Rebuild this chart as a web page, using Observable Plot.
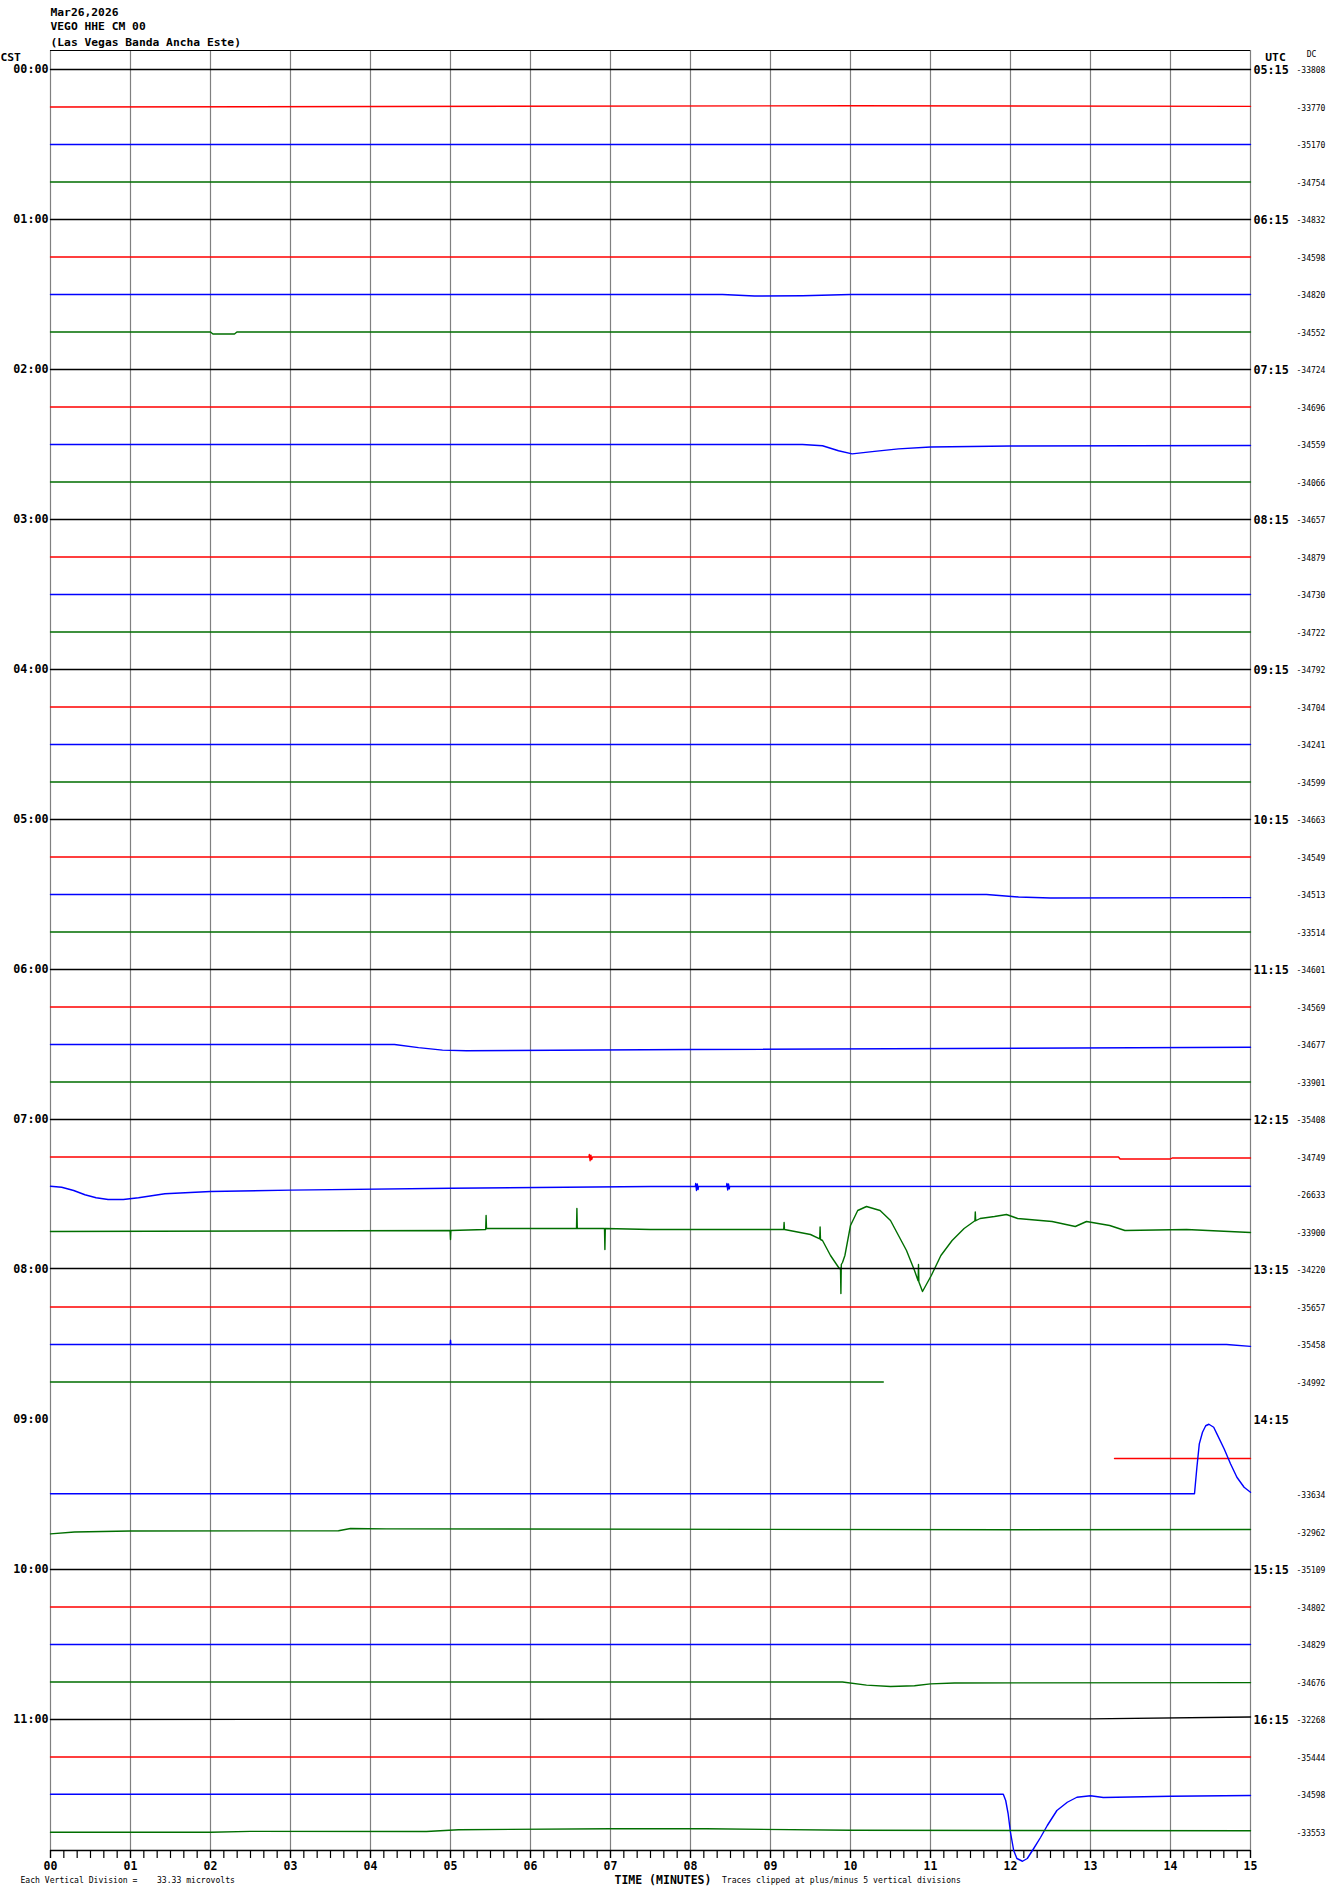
<!DOCTYPE html>
<html>
<head>
<meta charset="utf-8">
<script src="https://cdn.jsdelivr.net/npm/d3@7"></script>
<script src="https://cdn.jsdelivr.net/npm/@observablehq/plot@0.6"></script>
<style>
  html, body { margin: 0; padding: 0; background: #fff; }
  #chart svg { display: block; }
</style>
</head>
<body>
<div id="chart"></div>
<script>
// ---------- DATA ----------
const titleLines = ["Mar26,2026", "VEGO HHE CM 00", "(Las Vegas Banda Ancha Este)"];
const cstHours = ["00:00","01:00","02:00","03:00","04:00","05:00","06:00","07:00","08:00","09:00","10:00","11:00"];
const utcHours = ["05:15","06:15","07:15","08:15","09:15","10:15","11:15","12:15","13:15","14:15","15:15","16:15"];
const minuteTicks = [0,1,2,3,4,5,6,7,8,9,10,11,12,13,14,15];
const minuteLabels = ["00","01","02","03","04","05","06","07","08","09","10","11","12","13","14","15"];
const dcValues = [
  -33808,-33770,-35170,-34754,-34832,-34598,-34820,-34552,
  -34724,-34696,-34559,-34066,-34657,-34879,-34730,-34722,
  -34792,-34704,-34241,-34599,-34663,-34549,-34513,-33514,
  -34601,-34569,-34677,-33901,-35408,-34749,-26633,-33900,
  -34220,-35657,-35458,-34992,null,null,-33634,-32962,
  -35109,-34802,-34829,-34676,-32268,-35444,-34598,-33553
];
// Each trace: [minute, offset in vertical divisions from its line]
const flat = [[0,0],[15,0]];
const traceOffsets = [
  /*00*/ flat,
  /*01*/ [[0,0],[10,0.1],[15,0.05]],
  /*02*/ flat,
  /*03*/ flat,
  /*04*/ flat,
  /*05*/ flat,
  /*06*/ [[0,0],[8.4,0],[8.8,-0.12],[9.4,-0.1],[10,0],[15,0]],
  /*07*/ [[0,0],[2.0,0],[2.03,-0.16],[2.3,-0.16],[2.33,0],[15,0]],
  /*08*/ flat,
  /*09*/ flat,
  /*10*/ [[0,0],[9.4,0],[9.65,-0.1],[9.85,-0.5],[10.02,-0.75],[10.3,-0.55],[10.6,-0.35],[11.0,-0.2],[12,-0.12],[15,-0.08]],
  /*11*/ flat,
  /*12*/ flat,
  /*13*/ flat,
  /*14*/ flat,
  /*15*/ flat,
  /*16*/ flat,
  /*17*/ flat,
  /*18*/ flat,
  /*19*/ flat,
  /*20*/ flat,
  /*21*/ flat,
  /*22*/ [[0,0],[11.7,0],[12.1,-0.2],[12.5,-0.28],[15,-0.25]],
  /*23*/ flat,
  /*24*/ flat,
  /*25*/ flat,
  /*26*/ [[0,0],[4.3,0],[4.6,-0.25],[4.9,-0.45],[5.2,-0.5],[8,-0.4],[15,-0.22]],
  /*27*/ flat,
  /*28*/ flat,
  /*29*/ [[0,0],[6.73,0],[6.735,0.2],[6.745,-0.3],[6.755,0.15],[6.765,-0.2],[6.775,0],[13.35,0],[13.37,-0.16],[14,-0.16],[14.02,-0.08],[15,-0.08]],
  /*30*/ [[0,0.66],[0.14,0.58],[0.29,0.32],[0.43,-0.02],[0.57,-0.26],[0.72,-0.4],[0.91,-0.4],[1.1,-0.26],[1.43,0.06],[2.0,0.24],[3.0,0.35],[5.0,0.5],[7.5,0.64],[8.06,0.64],[8.065,0.88],[8.075,0.32],[8.085,0.85],[8.095,0.4],[8.1,0.64],[8.45,0.64],[8.455,0.88],[8.465,0.36],[8.475,0.85],[8.485,0.45],[8.49,0.64],[15,0.66]],
  /*31*/ [[0,0.04],[4.995,0.12],[5.0,-0.6],[5.005,0.12],[5.44,0.2],[5.445,1.32],[5.45,0.28],[6.575,0.28],[6.58,1.88],[6.585,0.28],[6.925,0.28],[6.93,-1.4],[6.935,0.28],[7.5,0.2],[9.165,0.2],[9.17,0.76],[9.175,0.2],[9.5,-0.2],[9.615,-0.55],[9.62,0.4],[9.625,-0.6],[9.65,-0.68],[9.75,-1.88],[9.86,-2.92],[9.875,-2.9],[9.88,-4.92],[9.885,-2.6],[9.9,-2.44],[9.93,-1.88],[10.0,0.52],[10.09,1.72],[10.2,2.04],[10.37,1.72],[10.5,0.92],[10.6,-0.28],[10.7,-1.48],[10.8,-3.08],[10.845,-3.9],[10.85,-2.6],[10.855,-4.0],[10.9,-4.76],[11.01,-3.48],[11.13,-1.88],[11.27,-0.68],[11.42,0.28],[11.555,0.9],[11.56,1.6],[11.565,0.9],[11.62,1.08],[11.8,1.24],[11.95,1.4],[12.09,1.08],[12.52,0.84],[12.81,0.44],[12.95,0.84],[13.24,0.52],[13.43,0.12],[14.2,0.2],[15,-0.04]],
  /*32*/ [[0,0.08],[15,0.08]],
  /*33*/ flat,
  /*34*/ [[0,0],[4.995,0],[5.0,0.35],[5.005,0],[14.7,0],[15,-0.15]],
  /*35*/ [[0,0],[10.41,0]],
  /*36*/ [],
  /*37*/ [[13.3,-0.12],[15,-0.12]],
  /*38*/ [[0,0.06],[14.3,0.06],[14.33,2.18],[14.36,4.05],[14.40,4.98],[14.44,5.5],[14.48,5.62],[14.54,5.38],[14.58,4.85],[14.67,3.66],[14.75,2.46],[14.83,1.38],[14.92,0.58],[15,0.18]],
  /*39*/ [[0,-0.15],[0.3,0],[1,0.08],[3.6,0.1],[3.75,0.28],[4.2,0.25],[12,0.18],[15,0.2]],
  /*40*/ flat,
  /*41*/ flat,
  /*42*/ flat,
  /*43*/ [[0,0],[9.9,0],[10.2,-0.25],[10.5,-0.36],[10.8,-0.3],[11.0,-0.15],[11.3,-0.08],[15,-0.05]],
  /*44*/ [[0,0],[13,0.05],[15,0.2]],
  /*45*/ flat,
  /*46*/ [[0,0.02],[11.91,0.02],[11.94,-0.48],[11.97,-1.52],[12.0,-3.04],[12.04,-4.48],[12.08,-5.12],[12.15,-5.34],[12.21,-5.12],[12.29,-4.32],[12.375,-3.44],[12.46,-2.48],[12.58,-1.28],[12.71,-0.62],[12.83,-0.22],[13.0,-0.1],[13.16,-0.24],[14.0,-0.14],[15,-0.08]],
  /*47*/ [[0,-0.02],[2,-0.02],[2.5,0.05],[4.7,0.04],[5.1,0.18],[7.0,0.26],[8.2,0.26],[10,0.14],[15,0.1]]
];

// ---------- BUILD ----------
const rowColors = ["#000000", "#ff0000", "#0000ff", "#006e00"];
const divsPerRow = 3;
const rowBase = r => -divsPerRow * r;

const tracePoints = traceOffsets.flatMap((pts, row) =>
  pts.map(([minute, off]) => ({row, minute, value: rowBase(row) + off, color: rowColors[row % 4]}))
);
const hourRows = cstHours.map((label, k) => ({row: k * 4, cst: label, utc: utcHours[k]}));
const dcRows = dcValues.map((v, row) => ({row, v})).filter(d => d.v !== null);
const minorTicks = d3.range(0, 15.0001, 1/6);

const yTop = 1.52, yBottom = -142.48;
const mono = "DejaVu Sans Mono";

const chart = Plot.plot({
  width: 1330,
  height: 1894,
  marginLeft: 50,
  marginRight: 80,
  marginTop: 50,
  marginBottom: 44,
  style: {fontFamily: mono, background: "#fff", color: "#000", overflow: "visible"},
  x: {domain: [0, 15]},
  y: {domain: [yBottom, yTop], axis: null},
  marks: [
    Plot.ruleX(minuteTicks, {x: d => d, stroke: "#808080", strokeWidth: 1.2}),
    Plot.ruleY([yTop], {stroke: "#000", strokeWidth: 1.2}),
    Plot.ruleY([yBottom], {stroke: "#000", strokeWidth: 1.6}),
    Plot.axisX(minorTicks, {anchor: "bottom", tickSize: 8, tickFormat: () => "", label: null, strokeWidth: 1.2}),
    Plot.axisX(minuteTicks, {anchor: "bottom", tickSize: 8, tickPadding: 3, tickFormat: d => minuteLabels[d], label: null, fontSize: 11.5, fontWeight: "bold", strokeWidth: 1.2}),
    Plot.line(tracePoints, {x: "minute", y: "value", z: "row", stroke: "color", strokeWidth: 1.4, curve: "linear"}),
    Plot.text(hourRows, {x: () => 0, y: d => rowBase(d.row), text: "cst", textAnchor: "end", dx: -2, fontSize: 11.7, fontWeight: "bold"}),
    Plot.text(hourRows, {x: () => 15, y: d => rowBase(d.row), text: "utc", textAnchor: "start", dx: 3, dy: 1, fontSize: 11.7, fontWeight: "bold"}),
    Plot.text(dcRows, {x: () => 15, y: d => rowBase(d.row), text: d => String(d.v), textAnchor: "start", dx: 46, dy: 1, fontSize: 8}),
    Plot.text([titleLines[0]], {frameAnchor: "top-left", dy: -38, textAnchor: "start", lineAnchor: "middle", fontSize: 11.3, fontWeight: "bold"}),
    Plot.text([titleLines[1]], {frameAnchor: "top-left", dy: -24, textAnchor: "start", lineAnchor: "middle", fontSize: 11.3, fontWeight: "bold"}),
    Plot.text([titleLines[2]], {frameAnchor: "top-left", dy: -8.5, textAnchor: "start", lineAnchor: "middle", fontSize: 11.3, fontWeight: "bold"}),
    Plot.text(["CST"], {frameAnchor: "top-left", dx: -50, dy: 7, textAnchor: "start", lineAnchor: "middle", fontSize: 11.3, fontWeight: "bold"}),
    Plot.text(["UTC"], {frameAnchor: "top-right", dx: 25, dy: 7, textAnchor: "middle", lineAnchor: "middle", fontSize: 11.3, fontWeight: "bold"}),
    Plot.text(["DC"], {frameAnchor: "top-right", dx: 61, dy: 4, textAnchor: "middle", lineAnchor: "middle", fontSize: 8}),
    Plot.text(["TIME (MINUTES)"], {frameAnchor: "bottom-left", dx: 564, dy: 29.5, textAnchor: "start", lineAnchor: "middle", fontSize: 11.5, fontWeight: "bold"}),
    Plot.text(["Each Vertical Division =\u00a0\u00a0\u00a0\u00a033.33 microvolts"], {frameAnchor: "bottom-left", dx: -30, dy: 30, textAnchor: "start", lineAnchor: "middle", fontSize: 8.1}),
    Plot.text(["Traces clipped at plus/minus 5 vertical divisions"], {frameAnchor: "bottom-left", dx: 671.5, dy: 30, textAnchor: "start", lineAnchor: "middle", fontSize: 8.1})
  ]
});
document.getElementById("chart").appendChild(chart);
</script>
</body>
</html>
